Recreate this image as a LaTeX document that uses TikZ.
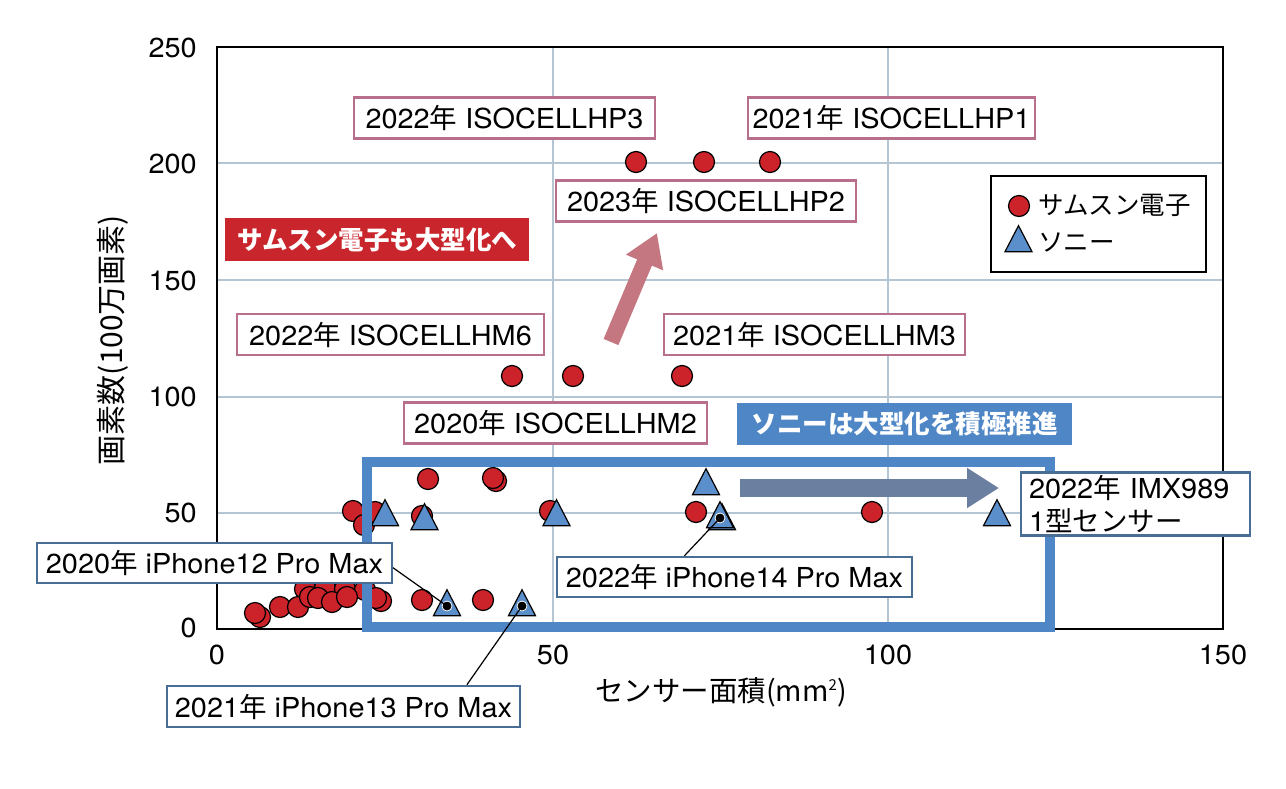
\documentclass[tikz,border=0pt]{standalone}
\usepackage{fontspec}
\setmainfont[FakeStretch=1.05]{TeX Gyre Heros}
\newfontfamily\jp{Noto Sans CJK JP}
\usetikzlibrary{arrows.meta}
\definecolor{sred}{HTML}{CC2229}
\definecolor{sblue}{HTML}{5B8FCB}
\definecolor{gridc}{HTML}{B4C6D4}
\definecolor{pinkb}{HTML}{B86F8C}
\definecolor{steelb}{HTML}{4A6D96}
\definecolor{redbox}{HTML}{C9252C}
\definecolor{bluebox}{HTML}{4E86C6}
\definecolor{frameb}{HTML}{4F86C5}
\definecolor{pinkarr}{HTML}{C57781}
\definecolor{greyarr}{HTML}{6B7FA1}
\newcommand\NEN{{\jp 年}}
\tikzset{
  every node/.style={font=\fontsize{27.5}{33}\selectfont},
  gridl/.style={draw=gridc, line width=1.5},
  sam/.style={circle, draw=black, line width=1.2, fill=sred, minimum size=21, inner sep=0},
  trist/.style={draw=black, line width=1.2, fill=sblue, line join=miter},
  sonytri/.pic={\path[trist] (-13.5,8.7) -- (13.5,8.7) -- (0,-17.3) -- cycle;},
  pinklab/.style={draw=pinkb, line width=2.5, fill=white, minimum height=41, inner sep=0},
  steellab/.style={draw=steelb, line width=2.5, fill=white, minimum height=40, inner sep=0},
  dotn/.style={circle, fill=black, draw=white, line width=0.8, minimum size=10, inner sep=0},
  leader/.style={draw=black, line width=1.2},
  tick/.style={inner sep=0},
}
\begin{document}
\begin{tikzpicture}[x=1pt,y=-1pt]
\useasboundingbox[fill=white] (0,0) rectangle (1286,788);
% grid
\foreach \yy in {163,280,397,513} \draw[gridl] (217,\yy) -- (1223,\yy);
\foreach \xx in {553,888} \draw[gridl] (\xx,47) -- (\xx,629);
% plot frame
\draw[black, line width=1.8] (217,47) rectangle (1223,629);
% tick labels
\node[tick] (tx0) at (217,655) {0};
\node[tick] (tx50) at (553,655) {50};
\node[tick] (tx100) at (888,655) {100};
\node[tick] (tx150) at (1223,655) {150};
\node[tick, anchor=east] (ty250) at (197,48) {250};
\node[tick, anchor=east] (ty200) at (197,164) {200};
\node[tick, anchor=east] (ty150) at (197,281) {150};
\node[tick, anchor=east] (ty100) at (197,397) {100};
\node[tick, anchor=east] (ty50) at (197,513) {50};
\node[tick, anchor=east] (ty0) at (197,628) {0};
% axis titles
\node[rotate=90, font=\fontsize{30}{34}\selectfont\jp] (ytitle) at (113,340) {画素数(100万画素)};
\node[font=\fontsize{28.5}{33}\selectfont\jp] (xtitle) at (721,692) {センサー面積(mm\raisebox{11pt}{\fontsize{15}{15}\selectfont 2})};
% samsung data
\foreach \px/\py in {636/162,704/162,770/162,512/376,573/376,682/376,
  428/479,496/481,493/478,
  353/511,364/525,375/512,422/516,550/511,696/512,872/512,
  305/589,325/588,345/589,365/590,
  260/617,255/613,280/607,298/607,310/597,318/598,332/602,347/597,
  381/601,376/598,422/600,483/600}
  \node[sam] at (\px,\py) {};
% sony data
\foreach \px/\py in {385/517,424.5/521,447/607,522/607,556.5/517,706/486,722/521,720/519,997/517}
  \pic at (\px,\py) {sonytri};
% big blue frame
\draw[draw=frameb, line width=10] (367,462) rectangle (1050,627);
% arrows
\coordinate (pa1) at (611,342);
\coordinate (pa2) at (657,233);
\draw[draw=pinkarr, line width=16, -{Triangle[width=38pt,length=32pt]}] (pa1) -- (pa2);
\coordinate (ga1) at (740,488);
\coordinate (ga2) at (999,488);
\draw[draw=greyarr, line width=18, -{Triangle[width=38pt,length=32pt]}] (ga1) -- (ga2);
% samsung labels
\node[pinklab, minimum width=301] (hp3) at (504.5,118) {2022\NEN\ ISOCELLHP3};
\node[pinklab, minimum width=287] (hp1) at (891.5,118) {2021\NEN\ ISOCELLHP1};
\node[pinklab, minimum width=300] (hp2) at (706,201) {2023\NEN\ ISOCELLHP2};
\node[pinklab, minimum width=307] (hm6) at (390.5,334.5) {2022\NEN\ ISOCELLHM6};
\node[pinklab, minimum width=301] (hm3) at (814.5,334.5) {2021\NEN\ ISOCELLHM3};
\node[pinklab, minimum width=303] (hm2) at (555.5,423) {2020\NEN\ ISOCELLHM2};
% callouts
\node[fill=redbox, text=white, minimum width=304, minimum height=43, inner sep=0, font=\fontsize{25.5}{30}\selectfont\jp\bfseries] (sbox) at (377,239.5) {サムスン電子も大型化へ};
\node[fill=bluebox, text=white, minimum width=335, minimum height=42, inner sep=0, font=\fontsize{25.5}{30}\selectfont\jp\bfseries] (ybox) at (904.5,424) {ソニーは大型化を積極推進};
% sony labels
\node[steellab, text width=213, inner xsep=8, inner ysep=3, align=left, font=\fontsize{27.5}{33}\selectfont] (imx) at (1135.5,504) {2022\NEN\ IMX989\\1{\jp 型センサー}};
\node[dotn] (d12) at (447,606) {};
\node[dotn] (d13) at (522,606) {};
\node[dotn] (d14) at (720,518) {};
\draw[leader] (392,567) -- (d12.center);
\node[steellab, minimum width=355] (l12) at (214.5,563) {2020\NEN\ iPhone12 Pro Max};
\node[steellab, minimum width=355] (l14) at (734.5,577) {2022\NEN\ iPhone14 Pro Max};
\node[steellab, minimum width=353, minimum height=41] (l13) at (343.5,706.5) {2021\NEN\ iPhone13 Pro Max};
\draw[leader] (l14.157) -- (d14.center);
\draw[leader] (l13.10) -- (d13.center);
\node[circle, fill=black, minimum size=8, inner sep=0] at (d12) {};
\node[circle, fill=black, minimum size=8, inner sep=0] at (d13) {};
\node[circle, fill=black, minimum size=8, inner sep=0] at (d14) {};
% legend
\node[draw=black, line width=1.5, minimum width=215, minimum height=96, inner sep=0] (leg) at (1098.5,224) {};
\node[sam] (legc) at (1019,206) {};
\pic at (1018.5,243) {sonytri};
\node[anchor=west, inner sep=0, font=\fontsize{25.5}{30}\selectfont\jp] (legt1) at (1038,205) {サムスン電子};
\node[anchor=west, inner sep=0, font=\fontsize{25.5}{30}\selectfont\jp] (legt2) at (1038,243) {ソニー};
\end{tikzpicture}
\end{document}
